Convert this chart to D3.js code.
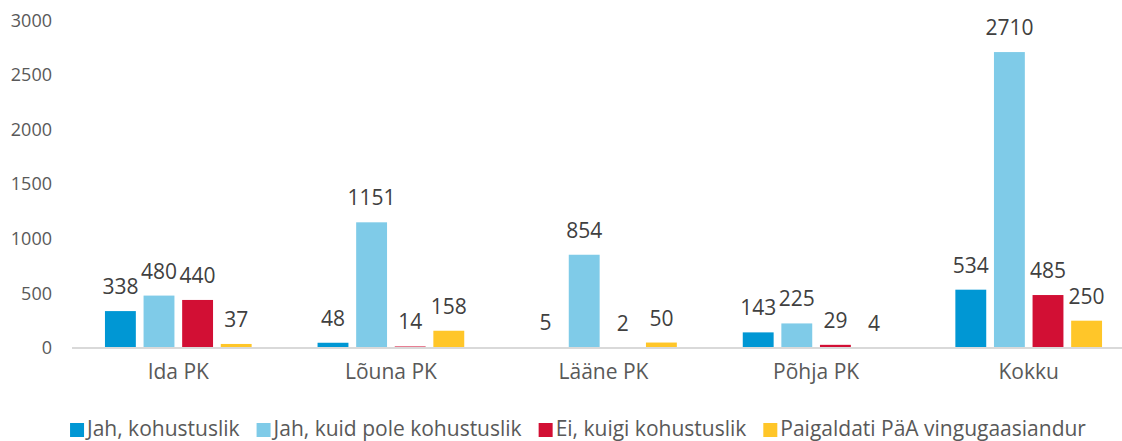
<!DOCTYPE html>
<html><head><meta charset="utf-8">
<script src="https://cdn.jsdelivr.net/npm/d3@7"></script>
<style>
html,body{margin:0;padding:0;background:#fff;}
svg{display:block;font-family:"Open Sans",sans-serif;}
</style></head><body>
<svg id="c" width="1122" height="441"></svg>
<script>
const categories = ["Ida PK","Lõuna PK","Lääne PK","Põhja PK","Kokku"];
const seriesNames = ["Jah, kohustuslik","Jah, kuid pole kohustuslik","Ei, kuigi kohustuslik","Paigaldati PäA vingugaasiandur"];
const jahKohustuslik = [338,48,5,143,534];
const jahKuidPole = [480,1151,854,225,2710];
const eiKuigi = [440,14,2,29,485];
const paigaldati = [37,158,50,4,250];
const yTicks = [0,500,1000,1500,2000,2500,3000];
const colors = ["#0097d4","#7fcbe8","#d20f34","#ffc629"];

const seriesValues = [jahKohustuslik, jahKuidPole, eiKuigi, paigaldati];
const svg = d3.select("#c");
const x = d3.scaleBand().domain(categories).range([72,1135]);
const y = d3.scaleLinear().domain([0,3000]).range([348,20.4]);
const xs = d3.scaleBand().domain(d3.range(4)).range([-77.2,77.2]).paddingInner(0.2).paddingOuter(0.1);

// y axis labels
const ya = d3.axisLeft(y).tickValues(yTicks).tickFormat(d3.format("d")).tickSize(0).tickPadding(0);
const yg = svg.append("g").attr("transform","translate(52,0)").call(ya);
yg.select(".domain").remove();
yg.selectAll("text").attr("fill","#595959").style("font-size","18px").style("font-family","'Open Sans',sans-serif");

// bars
const data = [];
categories.forEach((c,ci)=>seriesValues.forEach((s,si)=>data.push({c,si,v:s[ci]})));
svg.append("g").selectAll("rect").data(data).join("rect")
  .attr("x",d=>x(d.c)+x.bandwidth()/2+xs(d.si))
  .attr("width",xs.bandwidth())
  .attr("y",d=>y(d.v))
  .attr("height",d=>y(0)-y(d.v))
  .attr("fill",d=>colors[d.si]);

// baseline
svg.append("line").attr("x1",72).attr("x2",1122).attr("y1",348).attr("y2",348)
  .attr("stroke","#d9d9d9").attr("stroke-width",2);

// value labels
svg.append("g").selectAll("text").data(data).join("text")
  .attr("x",d=>x(d.c)+x.bandwidth()/2+xs(d.si)+xs.bandwidth()/2)
  .attr("y",d=>y(d.v)-17)
  .attr("text-anchor","middle").attr("fill","#404040").style("font-size","21px")
  .text(d=>d.v);

// x axis labels
const xa = d3.axisBottom(x).tickSize(0).tickPadding(0);
const xg = svg.append("g").attr("transform","translate(0,364)").call(xa);
xg.select(".domain").remove();
xg.selectAll("text").attr("fill","#595959").style("font-size","21px").style("font-family","'Open Sans',sans-serif");

// legend
const lg = svg.append("g");
const items = lg.selectAll("g").data(seriesNames).join("g");
items.append("rect").attr("width",14).attr("height",14).attr("y",-13).attr("fill",(d,i)=>colors[i]);
items.append("text").attr("x",17).attr("y",0).attr("fill","#595959").style("font-size","21px").text(d=>d);
let cx = 0;
items.each(function(){
  const w = 17 + this.querySelector("text").getComputedTextLength();
  d3.select(this).attr("transform",`translate(${cx},0)`);
  cx += w + 17;
});
const total = cx - 17;
lg.attr("transform",`translate(${578 - total/2},436)`);
</script>
</body></html>
